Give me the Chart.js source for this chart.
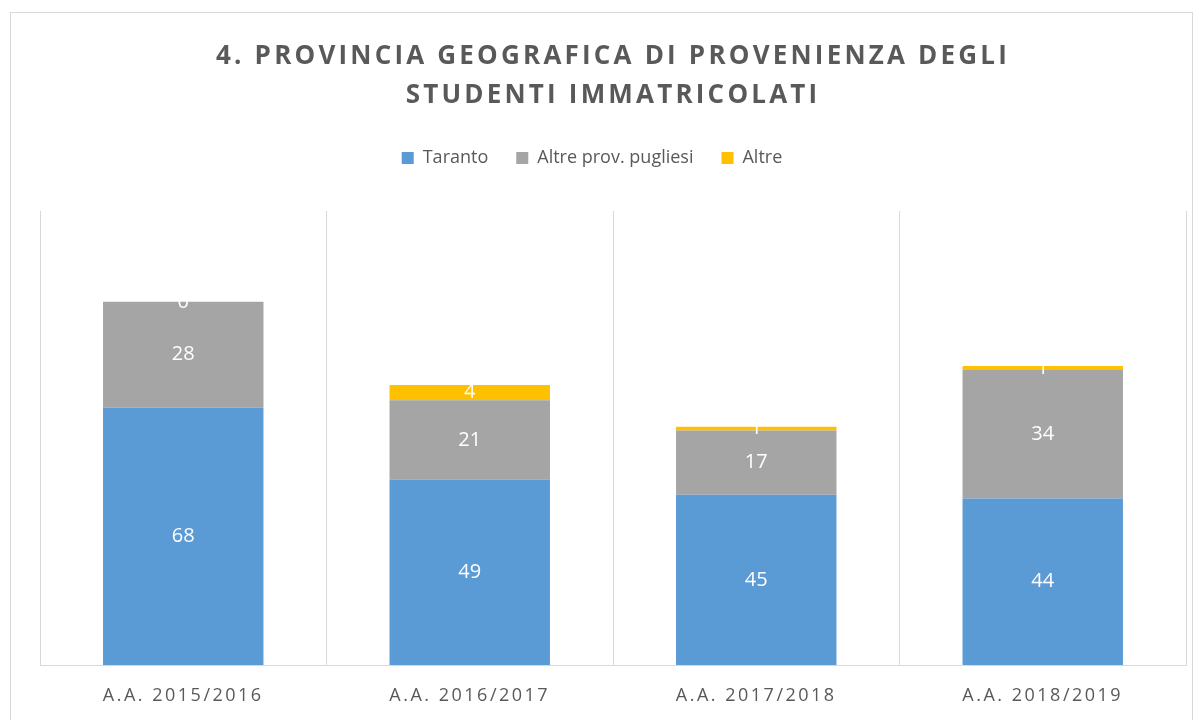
<!DOCTYPE html>
<html>
<head>
<meta charset="utf-8">
<script src="https://cdn.jsdelivr.net/npm/chart.js@4.4.1/dist/chart.umd.min.js"></script>
<style>
  html, body { margin: 0; padding: 0; background: #fff; overflow: hidden; }
  #frame { position: absolute; left: 10px; top: 12px; width: 1183px; height: 720px; border: 1px solid #D9D9D9; box-sizing: border-box; }
  #wrap { position: absolute; left: 0; top: 0; width: 1203px; height: 720px; }
</style>
</head>
<body>
<div id="frame"></div>
<div id="wrap"><canvas id="c" width="1203" height="720"></canvas></div>
<script>
const categories = ['A.A. 2015/2016', 'A.A. 2016/2017', 'A.A. 2017/2018', 'A.A. 2018/2019'];
const taranto = [68, 49, 45, 44];
const altrePuglia = [28, 21, 17, 34];
const altre = [0, 4, 1, 1];
const seriesNames = ['Taranto', 'Altre prov. pugliesi', 'Altre'];
const titleLines = ['4. PROVINCIA GEOGRAFICA DI PROVENIENZA DEGLI', 'STUDENTI IMMATRICOLATI'];

const textGrey = '#595959';

const spacingPlugin = {
  id: 'spacing',
  afterInit(chart) {
    const lg = chart.legend;
    if (lg && !lg._wrapped) {
      const orig = lg.draw;
      lg.draw = function () {
        const ctx = this.ctx;
        ctx.save();
        ctx.letterSpacing = '0px';
        ctx.translate(-21, 0);
        orig.apply(this, arguments);
        ctx.restore();
      };
      const origFit = lg.fit;
      lg.fit = function () {
        origFit.apply(this, arguments);
        this.height += 34;
      };
      lg._wrapped = true;
    }
    const tt = chart.titleBlock;
    if (tt && !tt._wrapped) {
      const origT = tt.draw;
      tt.draw = function () {
        const ctx = this.ctx;
        ctx.save();
        ctx.letterSpacing = '3.2px';
        origT.apply(this, arguments);
        ctx.restore();
      };
      tt._wrapped = true;
    }
  },
  beforeDraw(chart) {
    chart.ctx.letterSpacing = '2.5px';
  },
  afterDraw(chart) {
    chart.ctx.letterSpacing = '0px';
  }
};

const labelsPlugin = {
  id: 'segLabels',
  afterDatasetsDraw(chart) {
    const ctx = chart.ctx;
    ctx.save();
    ctx.letterSpacing = '0px';
    ctx.fillStyle = '#FFFFFF';
    ctx.font = '20px "Open Sans", sans-serif';
    ctx.textAlign = 'center';
    ctx.textBaseline = 'middle';
    chart.data.datasets.forEach((ds, i) => {
      const meta = chart.getDatasetMeta(i);
      meta.data.forEach((bar, j) => {
        const v = ds.data[j];
        const p = bar.getProps(['x', 'y', 'base'], true);
        const cy = (p.y + p.base) / 2;
        ctx.fillText(String(v), p.x, cy);
      });
    });
    ctx.restore();
  }
};

new Chart(document.getElementById('c'), {
  type: 'bar',
  data: {
    labels: categories,
    datasets: [
      { label: seriesNames[0], data: taranto, backgroundColor: '#5B9BD5' },
      { label: seriesNames[1], data: altrePuglia, backgroundColor: '#A5A5A5' },
      { label: seriesNames[2], data: altre, backgroundColor: '#FFC000' }
    ]
  },
  options: {
    responsive: false,
    animation: false,
    layout: { padding: { left: 40, right: 17, top: 37, bottom: -7 } },
    datasets: { bar: { categoryPercentage: 1, barPercentage: 0.56, borderWidth: 0 } },
    plugins: {
      title: {
        display: true,
        text: titleLines,
        color: textGrey,
        font: { family: '"Open Sans", sans-serif', size: 26, weight: 'bold', lineHeight: 1.5 },
        padding: { top: 0, bottom: 6 }
      },
      legend: {
        display: true,
        position: 'top',
        labels: {
          color: textGrey,
          font: { family: '"Open Sans", sans-serif', size: 18 },
          boxWidth: 12,
          boxHeight: 12,
          padding: 28
        }
      },
      tooltip: { enabled: false }
    },
    scales: {
      x: {
        stacked: true,
        grid: { display: true, color: '#D9D9D9', offset: true, drawTicks: false, lineWidth: 1 },
        border: { display: true, color: '#D9D9D9' },
        ticks: { color: textGrey, font: { family: '"Open Sans", sans-serif', size: 18, lineHeight: 1 }, padding: 22 }
      },
      y: {
        stacked: true,
        display: false,
        min: 0,
        max: 120
      }
    }
  },
  plugins: [spacingPlugin, labelsPlugin]
});
</script>
</body>
</html>
